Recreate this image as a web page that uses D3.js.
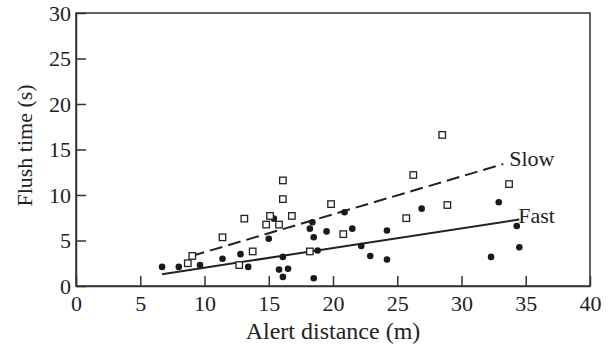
<!DOCTYPE html>
<html>
<head>
<meta charset="utf-8">
<script src="https://cdn.jsdelivr.net/npm/d3@7"></script>
<style>
  body { margin: 0; background: #fff; }
  svg text { font-family: "Liberation Serif", "DejaVu Serif", serif; fill: #222; }
</style>
</head>
<body>
<div id="chart"></div>
<script>
// Fast trials (filled circles): alert distance (m), flush time (s)
const fastX = [6.7, 8.0, 9.65, 11.4, 12.8, 13.4, 15.0, 15.4, 15.8, 16.1, 16.1, 16.5, 18.2, 18.4, 18.5, 18.5, 18.8, 19.5,
  20.9, 21.5, 22.2, 22.9, 24.2, 24.2, 26.9, 32.3, 32.9, 34.3, 34.5]
const fastY = [2.1, 2.1, 2.3, 3.0, 3.5, 2.1, 5.2, 7.4, 1.8, 3.2, 1.0, 1.9, 6.3, 7.0, 5.35, 0.85, 3.9, 6.0,
  8.1, 6.3, 4.4, 3.3, 6.1, 2.9, 8.5, 3.2, 9.2, 6.6, 4.25]

// Slow trials (open squares)
const slowX = [8.7, 9.05, 11.4, 13.1, 12.7, 13.75, 14.8, 15.1, 15.8, 16.1, 16.1, 16.8, 18.2, 19.85, 20.8, 25.7, 26.25, 28.9, 33.7, 28.5]
const slowY = [2.5, 3.3, 5.35, 7.4, 2.3, 3.8, 6.75, 7.7, 6.75, 11.6, 9.55, 7.7, 3.8, 9.0, 5.7, 7.45, 12.2, 8.9, 11.2, 16.6]

// fitted regression lines
const fastLine = [[6.7, 1.3], [34.5, 7.3]]
const slowLine = [[9.0, 3.3], [33.25, 13.4]]

const xTicks = [0, 5, 10, 15, 20, 25, 30, 35, 40]
const yTicks = [0, 5, 10, 15, 20, 25, 30]

const W = 610, H = 346
const margin = { top: 13, right: 20, bottom: 60, left: 76 }
const w = W - margin.left - margin.right
const h = H - margin.top - margin.bottom

const svg = d3.select('#chart').append('svg').attr('width', W).attr('height', H)
const g = svg.append('g').attr('transform', `translate(${margin.left},${margin.top})`)

const x = d3.scaleLinear().domain([0, 40]).range([0, w])
const y = d3.scaleLinear().domain([0, 30]).range([h, 0])

const axisColor = '#333'

// frame
g.append('rect')
  .attr('width', w).attr('height', h)
  .attr('fill', 'none').attr('stroke', axisColor).attr('stroke-width', 1.5)

// axes, ticks pointing inward
const xAxis = g.append('g').attr('transform', `translate(0,${h})`)
  .call(d3.axisBottom(x).tickValues(xTicks).tickSizeInner(-10).tickSizeOuter(0).tickPadding(6))
const yAxis = g.append('g')
  .call(d3.axisLeft(y).tickValues(yTicks).tickSizeInner(-10).tickSizeOuter(0).tickPadding(5))

;[xAxis, yAxis].forEach(a => {
  a.select('.domain').attr('stroke', axisColor).attr('stroke-width', 1.5)
  a.selectAll('.tick line').attr('stroke', axisColor).attr('stroke-width', 1.5)
  a.selectAll('.tick text').attr('font-size', 22).attr('font-family', '"Liberation Serif", serif').attr('fill', '#222')
})
xAxis.selectAll('.tick text').attr('dy', '0.85em')

const lineGen = d3.line().x(d => x(d[0])).y(d => y(d[1]))

g.append('path')
  .datum(slowLine)
  .attr('fill', 'none').attr('stroke', '#222').attr('stroke-width', 2)
  .attr('stroke-dasharray', '13,6')
  .attr('d', lineGen)

g.append('path')
  .datum(fastLine)
  .attr('fill', 'none').attr('stroke', '#222').attr('stroke-width', 2)
  .attr('d', lineGen)

// points
const fast = fastX.map((d, i) => ({ x: d, y: fastY[i] }))
const slow = slowX.map((d, i) => ({ x: d, y: slowY[i] }))

g.selectAll('.fast-dot')
  .data(fast)
  .join('circle')
  .attr('class', 'fast-dot')
  .attr('cx', d => x(d.x)).attr('cy', d => y(d.y))
  .attr('r', 3.3)
  .attr('fill', '#1a1a1a')

const s = 6.5
g.selectAll('.slow-sq')
  .data(slow)
  .join('rect')
  .attr('class', 'slow-sq')
  .attr('x', d => x(d.x) - s / 2).attr('y', d => y(d.y) - s / 2)
  .attr('width', s).attr('height', s)
  .attr('fill', '#fff').attr('stroke', '#222').attr('stroke-width', 1.3)

// line labels
g.append('text')
  .attr('x', x(slowLine[1][0]) + 6).attr('y', y(slowLine[1][1]) + 2)
  .attr('font-size', 22)
  .text('Slow')
g.append('text')
  .attr('x', x(fastLine[1][0]) - 1).attr('y', y(fastLine[1][1]) + 3)
  .attr('font-size', 22)
  .text('Fast')

// axis titles
svg.append('text')
  .attr('x', margin.left + w / 2).attr('y', H - 7)
  .attr('text-anchor', 'middle').attr('font-size', 24)
  .text('Alert distance (m)')
svg.append('text')
  .attr('transform', `translate(32,${margin.top + h / 2 - 4}) rotate(-90)`)
  .attr('text-anchor', 'middle').attr('font-size', 22)
  .text('Flush time (s)')
</script>
</body>
</html>
